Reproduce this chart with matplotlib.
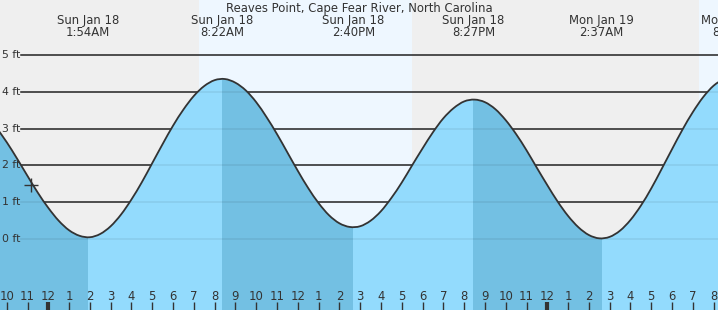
import numpy as np
import matplotlib
matplotlib.use('Agg')
import matplotlib.pyplot as plt
from matplotlib.path import Path
from matplotlib.patches import PathPatch
import matplotlib.transforms as mtransforms

# hours counted from Sun Jan 18 00:00
TITLE = 'Reaves Point, Cape Fear River, North Carolina'
times = np.arange(-2.5, 33.0, 0.5)
heights = [3.03, 2.63, 2.18, 1.71, 1.25, 0.84, 0.49, 0.23, 0.08,
           0.04, 0.13, 0.34, 0.66, 1.07, 1.54, 2.06, 2.58, 3.08, 3.52, 3.89, 4.16, 4.32,
           4.35, 4.25, 4.04, 3.72, 3.31, 2.85, 2.35, 1.85, 1.38, 0.97, 0.64, 0.42, 0.32,
           0.34, 0.49, 0.75, 1.11, 1.53, 2.00, 2.46, 2.90, 3.28, 3.56, 3.74,
           3.79, 3.72, 3.53, 3.23, 2.85, 2.41, 1.93, 1.46, 1.01, 0.62, 0.31, 0.10, 0.01,
           0.05, 0.22, 0.51, 0.90, 1.37, 1.90, 2.44, 2.97, 3.45, 3.86, 4.17, 4.36]

# tide extremes shown on top
ext_times = [1.9, 8.367, 14.667, 20.45, 26.617, 32.97]
ext_dates = ['Sun Jan 18', 'Sun Jan 18', 'Sun Jan 18', 'Sun Jan 18', 'Mon Jan 19', 'Mon Jan 19']
ext_clock = ['1:54AM', '8:22AM', '2:40PM', '8:27PM', '2:37AM', '8:58AM']

# falling tide (high -> low) spans drawn darker
fall_spans = [(-5.0, 1.9), (8.367, 14.667), (20.45, 26.617)]
# daylight spans
day_spans = [(7.25, 17.5), (31.28, 40.0)]

now_t, now_h = -0.83, 1.46

ft_levels = [0, 1, 2, 3, 4, 5]
hour_ticks = np.arange(-2, 33)

NIGHT = '#efefef'
DAY = '#eef7ff'
WATER = '#93dbfd'
WATER_DARK = '#73c0e3'
TEXT_COLOR = '#333333'
FS = 8.4

X0, X1 = -2.323, 32.21
Y0, Y1 = -1.943, 6.504
H = 310.0


# smooth path through the points (Catmull-Rom drawn as cubic Bezier segments)
def smooth_path(x, y):
    p = np.column_stack([x, y])
    verts = [p[0]]
    codes = [Path.MOVETO]
    n = len(p)
    for i in range(n - 1):
        p0 = p[max(i - 1, 0)]
        p1 = p[i]
        p2 = p[i + 1]
        p3 = p[min(i + 2, n - 1)]
        verts += [p1 + (p2 - p0) / 6, p2 - (p3 - p1) / 6, p2]
        codes += [Path.CURVE4] * 3
    return verts, codes


fig = plt.figure(figsize=(7.18, 3.10), dpi=100)
ax = fig.add_axes([0, 0, 1, 1])
ax.set_xlim(X0, X1)
ax.set_ylim(Y0, Y1)
ax.set_facecolor(NIGHT)
for s in ax.spines.values():
    s.set_visible(False)
ax.set_xticks([])
ax.set_yticks([])

for a, b in day_spans:
    ax.axvspan(a, b, color=DAY, zorder=0, lw=0)

# horizontal grid lines with labels
line_start = 21 / 718
left_tr = mtransforms.blended_transform_factory(ax.transAxes, ax.transData)
for lev in ft_levels:
    ax.axhline(lev, xmin=line_start, xmax=1, color='#222222', lw=1.1, zorder=1)
    ax.text(2 / 718, lev, f'{lev} ft', transform=left_tr,
            ha='left', va='center', fontsize=7.8, color=TEXT_COLOR, zorder=5)

# water body
cv, cc = smooth_path(times, heights)
wv = cv + [(times[-1], Y0 - 1), (times[0], Y0 - 1), cv[0]]
wc = cc + [Path.LINETO, Path.LINETO, Path.CLOSEPOLY]
water = PathPatch(Path(wv, wc), facecolor=WATER, edgecolor='none', zorder=2)
ax.add_patch(water)
for a, b in fall_spans:
    sp = ax.axvspan(a, b, color=WATER_DARK, zorder=2.5, lw=0)
    sp.set_clip_path(water)
# faint grid lines seen through the water
for lev in ft_levels:
    gl = ax.axhline(lev, xmin=line_start, xmax=1, color='#000000', alpha=0.08, lw=1.1, zorder=3)
    gl.set_clip_path(water)

ax.add_patch(PathPatch(Path(cv, cc), facecolor='none', edgecolor='#333333', lw=1.3, zorder=4))
ax.plot([now_t], [now_h], marker='+', markersize=10, mew=1.0, color='#333333', zorder=5)

# title and extreme labels
ax.text(0.5, 1 - 12 / H, TITLE, transform=ax.transAxes, ha='center', va='baseline',
        fontsize=FS, color=TEXT_COLOR, zorder=6)
top_tr = mtransforms.blended_transform_factory(ax.transData, ax.transAxes)
for t, d, c in zip(ext_times, ext_dates, ext_clock):
    ax.text(t, 1 - 24 / H, d, transform=top_tr, ha='center', va='baseline', fontsize=FS, color=TEXT_COLOR, zorder=6)
    ax.text(t, 1 - 36 / H, c, transform=top_tr, ha='center', va='baseline', fontsize=FS, color=TEXT_COLOR, zorder=6)

# hour ticks along the bottom
for h in hour_ticks:
    hr = int(h) % 12
    lab = str(12 if hr == 0 else hr)
    ax.text(h, 10 / H, lab, transform=top_tr, ha='center', va='baseline', fontsize=FS, color=TEXT_COLOR, zorder=6)
    midnight = int(h) % 24 == 0
    ax.plot([h, h], [0, 8 / H], transform=top_tr, color='#333333', lw=3 if midnight else 1,
            solid_capstyle='butt', zorder=6, clip_on=False)

fig.savefig('out.png', dpi=100)
